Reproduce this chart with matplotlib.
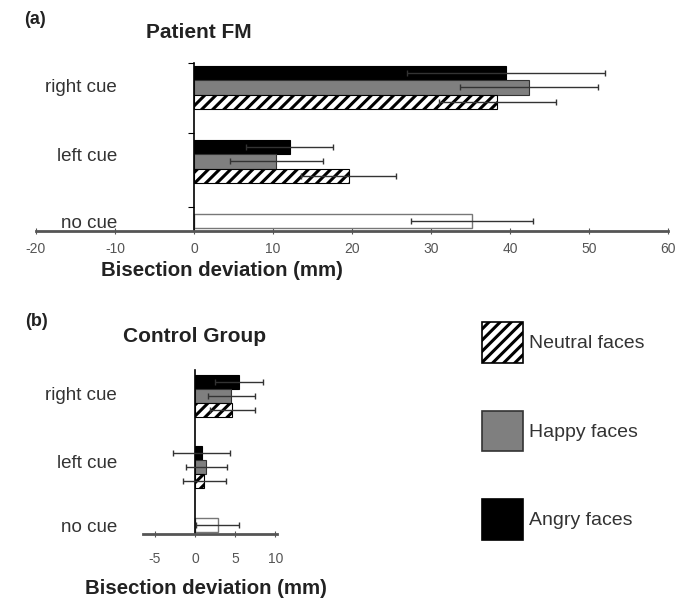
import numpy as np
import matplotlib
matplotlib.use('Agg')
import matplotlib.pyplot as plt
import matplotlib.transforms as mtransforms
from matplotlib.patches import Patch

plt.rcParams['font.family'] = ['Liberation Sans', 'DejaVu Sans']
plt.rcParams['hatch.linewidth'] = 2.2

# 数据
cues = ['right cue', 'left cue']
series = ['Angry faces', 'Happy faces', 'Neutral faces']

fm_angry = [39.5, 12.1]
fm_angry_err = [12.5, 5.5]
fm_happy = [42.4, 10.4]
fm_happy_err = [8.7, 5.9]
fm_neutral = [38.4, 19.6]
fm_neutral_err = [7.4, 6.0]
fm_nocue = [35.2]
fm_nocue_err = [7.7]

ctrl_angry = [5.5, 0.8]
ctrl_angry_err = [3.0, 3.6]
ctrl_happy = [4.5, 1.4]
ctrl_happy_err = [2.9, 2.6]
ctrl_neutral = [4.6, 1.15]
ctrl_neutral_err = [2.8, 2.65]
ctrl_nocue = [2.8]
ctrl_nocue_err = [2.7]

W, H = 678, 603
fig = plt.figure(figsize=(W / 100, H / 100), dpi=100)


def px_axes(left, top, right, bottom):
    # 像素坐标 -> figure 坐标
    return fig.add_axes([left / W, 1 - bottom / H, (right - left) / W, (bottom - top) / H])


def draw_panel(ax, angry, happy, neutral, nocue, errs, xlim, xticks, ytop, ybot, pad):
    h = 0.196
    ypos = np.array([2.0, 1.0])  # right cue, left cue
    ekw = dict(ecolor='#333333', elinewidth=1.0, capsize=2.5, capthick=1.0)
    ax.barh(ypos + h, angry, height=h, color='black', edgecolor='black', lw=0.8, zorder=2)
    ax.barh(ypos, happy, height=h, color='#7f7f7f', edgecolor='#333333', lw=0.8, zorder=2)
    ax.barh(ypos - h, neutral, height=h, color='white', edgecolor='black', hatch='///', lw=0.8, zorder=2)
    ax.barh([h], nocue, height=h, color='white', edgecolor='#777777', lw=1.0, zorder=2)
    ax.errorbar(angry, ypos + h, xerr=errs[0], fmt='none', zorder=3, **ekw)
    ax.errorbar(happy, ypos, xerr=errs[1], fmt='none', zorder=3, **ekw)
    ax.errorbar(neutral, ypos - h, xerr=errs[2], fmt='none', zorder=3, **ekw)
    ax.errorbar(nocue, [h], xerr=errs[3], fmt='none', zorder=3, **ekw)

    ax.set_xlim(*xlim)
    ax.set_ylim(ybot, ytop)
    ax.set_xticks(xticks)
    ax.set_xticklabels([str(t) for t in xticks], color='#555555', fontsize=10)
    ax.tick_params(axis='x', direction='inout', length=4, color='#555555', pad=pad)

    for s in ['top', 'right']:
        ax.spines[s].set_visible(False)
    ax.spines['left'].set_position(('data', 0))
    ax.spines['left'].set_linewidth(1.2)
    ax.spines['bottom'].set_linewidth(2.0)
    ax.spines['bottom'].set_color('#555555')

    # 类别标签
    trans = mtransforms.blended_transform_factory(fig.transFigure, ax.transData)
    lab_y = [2.0, 1.06, h - 0.03]
    for lab, y in zip(cues + ['no cue'], lab_y):
        ax.text(117 / W, y, lab, transform=trans, ha='right', va='center',
                fontsize=13.5, color='#333333')
    ax.patch.set_alpha(0)


ax1 = px_axes(36, 63, 668, 231)
draw_panel(ax1, fm_angry, fm_happy, fm_neutral, fm_nocue,
           [fm_angry_err, fm_happy_err, fm_neutral_err, fm_nocue_err],
           (-20, 60), list(range(-20, 61, 10)), 2.33, 0.06, 6)
ax1.set_yticks([0.385, 1.385, 2.33])
ax1.set_yticklabels([])
ax1.tick_params(axis='y', direction='out', length=4)

ax2 = px_axes(143, 370, 277, 534)
draw_panel(ax2, ctrl_angry, ctrl_happy, ctrl_neutral, ctrl_nocue,
           [ctrl_angry_err, ctrl_happy_err, ctrl_neutral_err, ctrl_nocue_err],
           (-6.5, 10.2), [-5, 0, 5, 10], 2.36, 0.07, 11)
ax2.set_yticks([])

# 文字
fig.text(35 / W, 1 - 20 / H, '(a)', ha='center', va='center', fontsize=13, fontweight='bold', color='#222222')
fig.text(199 / W, 1 - 33 / H, 'Patient FM', ha='center', va='center', fontsize=15, fontweight='bold', color='#222222')
fig.text(222 / W, 1 - 270 / H, 'Bisection deviation (mm)', ha='center', va='center', fontsize=14.7, fontweight='bold', color='#222222')
fig.text(36 / W, 1 - 322 / H, '(b)', ha='center', va='center', fontsize=13, fontweight='bold', color='#222222')
fig.text(195 / W, 1 - 337 / H, 'Control Group', ha='center', va='center', fontsize=15, fontweight='bold', color='#222222')
fig.text(206 / W, 1 - 588 / H, 'Bisection deviation (mm)', ha='center', va='center', fontsize=14.7, fontweight='bold', color='#222222')

# 图例
handles = [Patch(facecolor='white', edgecolor='black', hatch='///', lw=1.2),
           Patch(facecolor='#7f7f7f', edgecolor='#333333', lw=1.2),
           Patch(facecolor='black', edgecolor='black', lw=1.2)]
fig.legend(handles, ['Neutral faces', 'Happy faces', 'Angry faces'],
           loc='upper left', bbox_to_anchor=(482 / W, 1 - 322 / H),
           frameon=False, fontsize=14, handlelength=2.1, handleheight=2.86,
           labelspacing=2.45, handletextpad=0.3, borderpad=0, borderaxespad=0,
           labelcolor='#333333')

plt.savefig('out.png', dpi=100)
